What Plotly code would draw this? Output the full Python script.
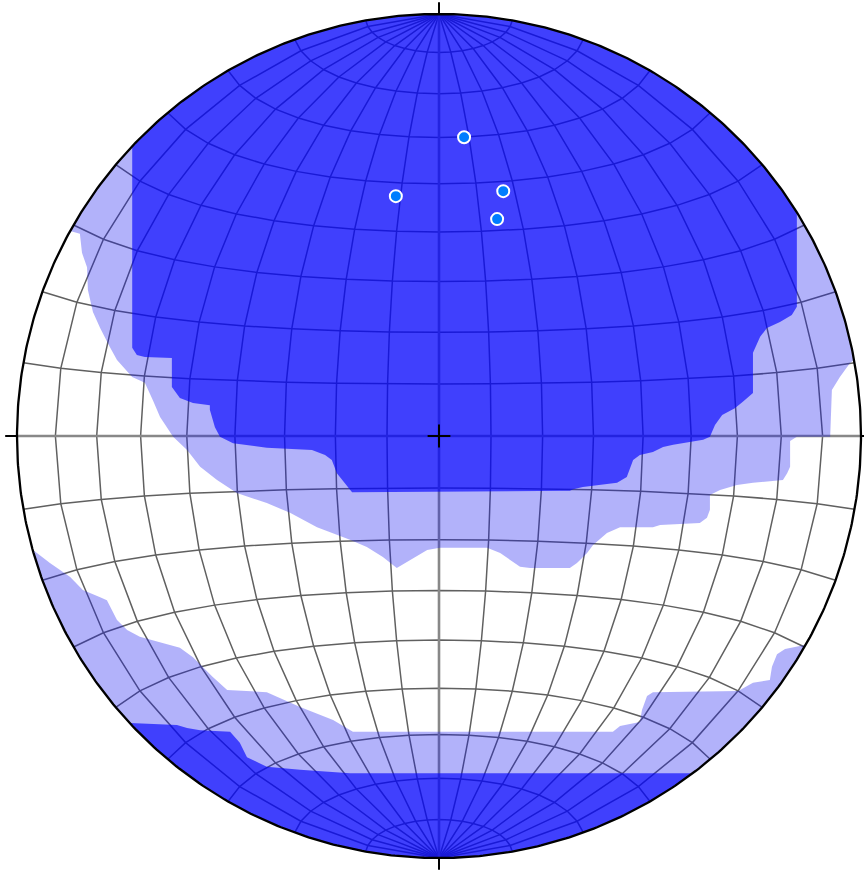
import numpy as np
import plotly.graph_objects as go

# ---- data -----------------------------------------------------------------
# Poles to planes, lower hemisphere (degrees)
pole_trend = [4.8, 349.8, 14.7, 15.0]
pole_plunge = [29.7, 41.8, 39.8, 45.8]

# Density contour boundaries in net-radius units (x east, y north).
# Each open boundary starts and ends on the primitive circle; the rest of the
# outline follows the circle clockwise.
upper_low_x = [0.983, 0.974, 0.950, 0.931, 0.927, 0.848, 0.832, 0.832, 0.825, 0.815,
               0.744, 0.706, 0.666, 0.642, 0.642, 0.635, 0.618, 0.524, 0.507, 0.429,
               0.398, 0.365, 0.351, 0.327, 0.310, 0.216, 0.192, 0.145, 0.114, 0.002,
               -0.028, -0.069, -0.100, -0.133, -0.171, -0.211, -0.289, -0.353, -0.408, -0.479,
               -0.526, -0.566, -0.597, -0.630, -0.661, -0.678, -0.697, -0.727, -0.763, -0.780,
               -0.803, -0.820, -0.832, -0.834, -0.846, -0.851, -0.874]
upper_low_y = [0.180, 0.173, 0.140, 0.109, -0.002, -0.002, -0.012, -0.073, -0.088, -0.104,
               -0.111, -0.116, -0.128, -0.140, -0.175, -0.194, -0.206, -0.211, -0.216, -0.216,
               -0.230, -0.258, -0.277, -0.301, -0.313, -0.313, -0.310, -0.277, -0.265, -0.265,
               -0.270, -0.294, -0.313, -0.287, -0.263, -0.246, -0.216, -0.182, -0.159, -0.135,
               -0.104, -0.073, -0.033, -0.002, 0.045, 0.085, 0.126, 0.140, 0.180, 0.211,
               0.256, 0.294, 0.346, 0.400, 0.434, 0.479, 0.486]

upper_high_x = [0.848, 0.848, 0.836, 0.808, 0.777, 0.761, 0.744, 0.744, 0.720, 0.701,
                0.671, 0.654, 0.642, 0.626, 0.555, 0.531, 0.507, 0.476, 0.460, 0.445,
                0.422, 0.341, 0.318, 0.310, -0.206, -0.216, -0.242, -0.254, -0.270, -0.301,
                -0.408, -0.488, -0.519, -0.531, -0.543, -0.543, -0.583, -0.614, -0.633, -0.633,
                -0.697, -0.716, -0.727, -0.727]
upper_high_y = [0.528, 0.306, 0.287, 0.270, 0.256, 0.235, 0.197, 0.102, 0.081, 0.066,
                0.050, 0.026, -0.002, -0.009, -0.021, -0.026, -0.038, -0.045, -0.057, -0.097,
                -0.111, -0.121, -0.126, -0.130, -0.133, -0.121, -0.088, -0.057, -0.045, -0.033,
                -0.028, -0.017, -0.002, 0.021, 0.062, 0.073, 0.078, 0.090, 0.116, 0.185,
                0.187, 0.192, 0.209, 0.685]

lower_low_x = [-0.962, -0.922, -0.874, -0.844, -0.803, -0.787, -0.763, -0.739, -0.709, -0.614,
               -0.583, -0.536, -0.502, -0.408, -0.384, -0.329, -0.251, -0.204, 0.412, 0.429,
               0.476, 0.481, 0.493, 0.507, 0.709, 0.744, 0.784, 0.789, 0.801, 0.820, 0.867]
lower_low_y = [-0.270, -0.301, -0.334, -0.365, -0.382, -0.389, -0.436, -0.460, -0.476, -0.502,
               -0.524, -0.571, -0.602, -0.607, -0.618, -0.642, -0.673, -0.701, -0.701, -0.687,
               -0.678, -0.649, -0.616, -0.607, -0.604, -0.585, -0.578, -0.547, -0.517, -0.505, -0.495]

lower_high_x = [-0.732, -0.621, -0.597, -0.566, -0.495, -0.472, -0.455, -0.408, -0.329, -0.211, 0.595]
lower_high_y = [-0.680, -0.685, -0.692, -0.697, -0.701, -0.727, -0.761, -0.784, -0.791, -0.799, -0.799]

grid_step = 10  # degrees between grid lines

# ---- geometry helpers ------------------------------------------------------
def schmidt(lon_deg, lat_deg):
    """Equal-area equatorial projection onto the unit primitive circle."""
    lon = np.radians(lon_deg)
    lat = np.radians(lat_deg)
    x = np.cos(lat) * np.sin(lon)
    y = np.sin(lat)
    z = np.cos(lat) * np.cos(lon)
    s = 1.0 / np.sqrt(1.0 + z)
    return x * s, y * s


def pole_xy(trend, plunge):
    t = np.radians(np.asarray(trend, dtype=float))
    r = np.sqrt(2.0) * np.sin(np.radians(90.0 - np.asarray(plunge, dtype=float)) / 2.0)
    return r * np.sin(t), r * np.cos(t)


def closed_region(xs, ys, n=200):
    """Close an open boundary by running clockwise along the primitive circle."""
    a0 = np.arctan2(ys[-1], xs[-1])
    a1 = np.arctan2(ys[0], xs[0])
    while a1 > a0:
        a1 -= 2 * np.pi
    a = np.linspace(a0, a1, n)
    return list(xs) + list(np.cos(a)), list(ys) + list(np.sin(a))


# ---- net grid (polylines through 10-degree nodes) -------------------------
gx, gy = [], []
nodes = np.arange(-90, 91, grid_step)
for lon in nodes[1:-1]:
    if lon == 0:
        continue
    x, y = schmidt(np.full(nodes.shape, lon), nodes)
    gx += list(x) + [None]
    gy += list(y) + [None]
for lat in nodes[1:-1]:
    if lat == 0:
        continue
    x, y = schmidt(nodes, np.full(nodes.shape, lat))
    gx += list(x) + [None]
    gy += list(y) + [None]

fig = go.Figure()

fig.add_trace(go.Scatter(x=gx, y=gy, mode="lines",
                         line=dict(color="#606060", width=1.5), hoverinfo="skip"))

# N-S and E-W diameters
fig.add_trace(go.Scatter(x=[-1, 1, None, 0, 0], y=[0, 0, None, -1, 1], mode="lines",
                         line=dict(color="#888888", width=2.6), hoverinfo="skip"))

# ---- contour fills ---------------------------------------------------------
light = "rgba(20,20,240,0.33)"
dark = "rgba(0,0,255,0.64)"
for xs, ys, col in [(upper_low_x, upper_low_y, light),
                    (lower_low_x, lower_low_y, light),
                    (upper_high_x, upper_high_y, dark),
                    (lower_high_x, lower_high_y, dark)]:
    px, py = closed_region(xs, ys)
    fig.add_trace(go.Scatter(x=px, y=py, mode="lines", fill="toself",
                             fillcolor=col, line=dict(width=0), hoverinfo="skip"))

# ---- primitive circle, cardinal ticks, centre cross ------------------------
a = np.linspace(0, 2 * np.pi, 721)
fig.add_trace(go.Scatter(x=np.cos(a), y=np.sin(a), mode="lines",
                         line=dict(color="black", width=2.3), hoverinfo="skip"))

t = 1.028
fig.add_trace(go.Scatter(
    x=[0, 0, None, 0, 0, None, -1, -t, None, 1, t],
    y=[1, t, None, -1, -t, None, 0, 0, None, 0, 0],
    mode="lines", line=dict(color="black", width=2), hoverinfo="skip"))

c = 0.027
fig.add_trace(go.Scatter(x=[-c, c, None, 0, 0], y=[0, 0, None, -c, c], mode="lines",
                         line=dict(color="black", width=2), hoverinfo="skip"))

# ---- poles -----------------------------------------------------------------
mx, my = pole_xy(pole_trend, pole_plunge)
fig.add_trace(go.Scatter(x=mx, y=my, mode="markers",
                         marker=dict(size=12, color="rgb(0,125,255)",
                                     line=dict(color="white", width=2))))

W, H = 864, 873
cx, cy, R = 439.0, 436.0, 422.0
fig.update_layout(
    width=W, height=H, autosize=False,
    margin=dict(l=0, r=0, t=0, b=0),
    paper_bgcolor="white", plot_bgcolor="white",
    showlegend=False, hovermode=False,
    xaxis=dict(visible=False, range=[-cx / R, (W - cx) / R], fixedrange=True),
    yaxis=dict(visible=False, range=[-(H - cy) / R, cy / R], fixedrange=True),
)

fig.write_html("out.html")
